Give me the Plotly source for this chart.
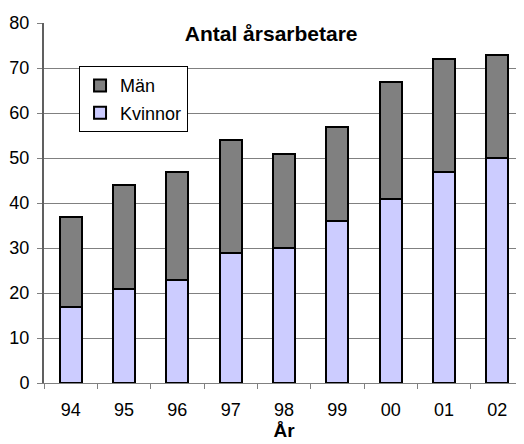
import plotly.graph_objects as go

years = ["94", "95", "96", "97", "98", "99", "00", "01", "02"]
kvinnor = [17, 21, 23, 29, 30, 36, 41, 47, 50]
man = [20, 23, 24, 25, 21, 21, 26, 25, 23]

fig = go.Figure()
fig.add_trace(go.Bar(x=years, y=kvinnor, name="Kvinnor", legendgroup="k", legendrank=2,
                     marker=dict(color="#ccccff", line=dict(color="black", width=2))))
fig.add_trace(go.Bar(x=years, y=man, name="Män", legendgroup="m", legendrank=1,
                     marker=dict(color="#808080", line=dict(color="black", width=2))))

# page body has an 8px margin: figure spans x 8..524, y 8..444
fig.update_layout(
    width=516, height=436,
    barmode="stack", bargap=0.59,
    paper_bgcolor="white", plot_bgcolor="white",
    margin=dict(l=36, r=0, t=15, b=61, autoexpand=False),
    font=dict(family="Liberation Sans, Arial", size=18, color="black"),
    title=dict(text="<b>Antal årsarbetare</b>", x=0.51, xanchor="center",
               y=0.942, yanchor="middle", font=dict(size=21)),
    showlegend=True,
    legend=dict(x=0.073, y=0.88, xanchor="left", yanchor="top",
                traceorder="grouped", bordercolor="black", borderwidth=1,
                bgcolor="white", font=dict(size=18), itemwidth=30,
                tracegroupgap=1),
    xaxis=dict(title=dict(text="<b>År</b>", font=dict(size=19), standoff=3),
               automargin=False,
               showline=True, linecolor="#808080", linewidth=1,
               ticks="outside", tickson="boundaries", ticklen=5, tickcolor="#808080",
               ticklabelstandoff=10, showgrid=False),
    yaxis=dict(range=[0, 80], dtick=10, automargin=False,
               showline=True, linecolor="#606060", linewidth=2,
               ticks="outside", ticklen=5, tickcolor="#808080", ticklabelstandoff=4,
               showgrid=True, gridcolor="#808080", gridwidth=1, zeroline=False),
)

fig.write_html("out.html")
